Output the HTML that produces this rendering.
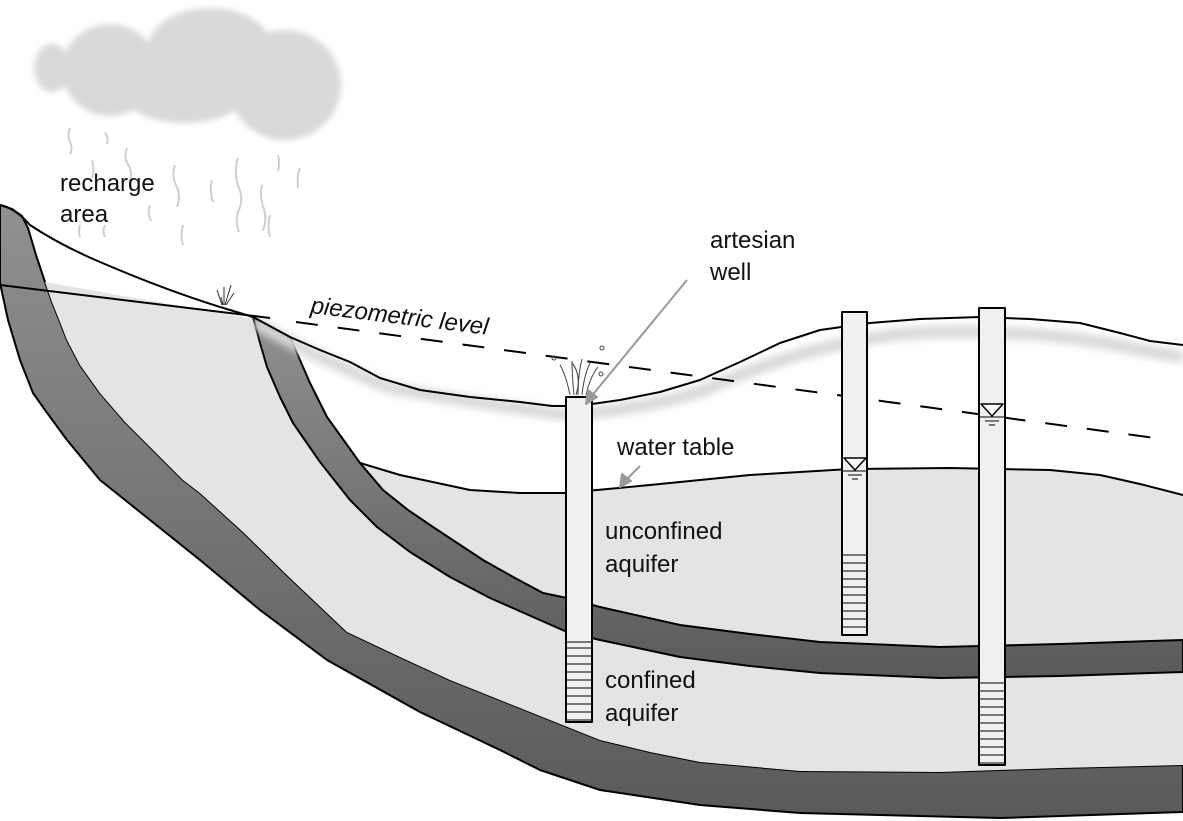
<!DOCTYPE html>
<html><head><meta charset="utf-8"><style>
html,body{margin:0;padding:0;background:#fff;}
svg{display:block;}
text{font-family:"Liberation Sans",sans-serif;font-size:24px;fill:#111;}
</style></head><body>
<svg width="1183" height="821" viewBox="0 0 1183 821" xmlns="http://www.w3.org/2000/svg" stroke-linejoin="round">
<defs>
<linearGradient id="dk" x1="0" y1="0" x2="0" y2="1">
<stop offset="0" stop-color="#909090"/><stop offset="1" stop-color="#5a5a5a"/>
</linearGradient>
<filter id="bl"><feGaussianBlur stdDeviation="4"/></filter>
<filter id="bl2"><feGaussianBlur stdDeviation="3"/></filter>
</defs>

<!-- cloud -->
<g fill="#d9d9d9" filter="url(#bl2)">
<ellipse cx="52" cy="68" rx="18" ry="24"/>
<ellipse cx="110" cy="70" rx="48" ry="46"/>
<ellipse cx="210" cy="48" rx="62" ry="40"/>
<ellipse cx="285" cy="85" rx="56" ry="55"/>
<ellipse cx="185" cy="95" rx="60" ry="28"/>
</g>

<!-- rain -->
<g stroke="#cfcfcf" stroke-width="2" fill="none">
<path d="M70 128 q-3 8 0 14 q3 6 0 12"/>
<path d="M105 132 q4 6 2 12"/>
<path d="M127 148 q-4 10 2 18 q4 8 0 16"/>
<path d="M92 160 q3 10 0 18"/>
<path d="M175 165 q-4 12 2 22 q4 10 0 20"/>
<path d="M212 180 q-3 10 1 22"/>
<path d="M238 158 q-5 15 1 30 q5 12 -1 24 q-3 10 1 20"/>
<path d="M262 185 q-3 12 2 24 q3 10 -1 22"/>
<path d="M278 155 q2 8 0 16"/>
<path d="M300 168 q-3 6 -2 20"/>
<path d="M150 205 q-3 8 1 16"/>
<path d="M183 225 q-3 10 0 20"/>
<path d="M270 215 q-3 10 0 22"/>
<path d="M80 225 q-2 6 0 12"/>
<path d="M105 225 q-3 6 0 12"/>
</g>

<!-- outer dark band -->
<path d="M0 205 L12 209 L22 216 L28 228 L36 255 L45 282 L52 302 L60 322 L67 340 L80 365 L100 393 L125 422 L150 447 L183 480 L200 493 L243 532 L290 578 L347 632 L400 657 L450 680 L520 708 L565 726 L600 740 L650 752 L700 762 L800 771 L940 772 L1060 768 L1183 765 L1183 812 L1000 818 L800 813 L700 805 L600 790 L540 770 L500 750 L420 712 L327 660 L260 610 L200 560 L150 520 L100 480 L67 440 L45 410 L33 393 L20 360 L8 320 L0 283 Z" fill="url(#dk)" stroke="#000" stroke-width="2"/>
<!-- confined aquifer light -->
<path d="M45 282 L248 318 L253 317 L260 343 L267 367 L280 397 L293 423 L320 462 L350 500 L377 527 L410 552 L450 577 L490 598 L533 617 L567 632 L600 640 L680 657 L820 673 L940 678 L1183 672 L1183 765 L1060 768 L940 772 L800 771 L700 762 L650 752 L600 740 L565 726 L520 708 L450 680 L400 657 L347 632 L290 578 L243 532 L200 493 L183 480 L150 447 L125 422 L100 393 L80 365 L67 340 L60 322 L52 302 Z" fill="#e4e4e4"/>
<!-- unconfined aquifer -->
<path d="M360 463 L400 475 L470 490 L520 493 L565 493 L650 485 L750 475 L850 469 L950 468 L1050 470 L1100 475 L1140 484 L1183 495 L1183 640 L940 647 L820 642 L680 625 L600 607 L567 598 L543 593 L483 560 L433 527 L383 490 Z" fill="#e4e4e4"/>
<!-- upper confining dark band -->
<path d="M253 317 L290 337 L300 360 L310 383 L327 417 L345 442 L360 463 L383 490 L408 510 L433 527 L483 560 L515 578 L543 593 L567 598 L600 607 L680 625 L750 634 L820 642 L940 647 L1060 644 L1183 640 L1183 672 L1060 676 L940 678 L820 673 L750 666 L680 657 L600 640 L567 632 L533 617 L490 598 L450 577 L410 552 L377 527 L350 500 L320 462 L293 423 L280 397 L267 367 L260 343 Z" fill="url(#dk)" stroke="#000" stroke-width="2"/>
<!-- water table line -->
<path d="M360 463 L400 475 L470 490 L520 493 L565 493 L650 485 L750 475 L850 469 L950 468 L1050 470 L1100 475 L1140 484 L1183 495" fill="none" stroke="#000" stroke-width="2"/>

<!-- land surface shadow -->
<path d="M255 322 Q300 350 390 388 Q470 402 560 414 Q620 414 700 392 Q800 346 900 334 Q1000 327 1100 342 Q1150 352 1183 357" fill="none" stroke="#d8d8d8" stroke-width="12" filter="url(#bl)"/>
<!-- land surface -->
<path d="M0 205 Q15 208 30 225 Q60 245 100 262 Q170 292 230 310 L253 317 L290 337 L320 350 L350 362 L380 378 L420 390 L470 397 L520 402 L552 406 L566 406 M592 404 L620 400 L660 392 L700 380 L740 362 L780 343 L820 330 L870 323 L920 319 L980 317 L1030 319 L1080 323 L1120 333 L1150 341 L1183 345" fill="none" stroke="#000" stroke-width="2"/>
<!-- piezometric base line -->
<line x1="0" y1="285" x2="270" y2="318" stroke="#000" stroke-width="2"/>
<!-- dashed piezometric line -->
<line x1="296" y1="322" x2="1170" y2="440" stroke="#000" stroke-width="2" stroke-dasharray="22,20"/>

<!-- grass -->
<g stroke="#333" stroke-width="1" fill="none">
<path d="M222 305 l-5 -15 M224 305 l0 -18 M225 305 l6 -20 M226 305 l8 -12 M223 305 l-2 -8"/>
</g>

<!-- wells -->
<g stroke="#000" stroke-width="2" fill="#f0f0f0">
<rect x="566" y="397" width="26" height="325"/>
<rect x="842" y="312" width="25" height="323"/>
<rect x="979" y="308" width="26" height="457"/>
</g>
<g stroke="#000" stroke-width="1">
<path d="M566 648h26M566 656h26M566 664h26M566 672h26M566 680h26M566 688h26M566 696h26M566 704h26M566 712h26M566 720h26M566 642h26"/>
<path d="M842 555h25M842 563h25M842 571h25M842 579h25M842 587h25M842 595h25M842 603h25M842 611h25M842 619h25M842 627h25"/>
<path d="M979 683h26M979 691h26M979 699h26M979 707h26M979 715h26M979 723h26M979 731h26M979 739h26M979 747h26M979 755h26M979 763h26"/>
</g>
<!-- water level symbols -->
<g stroke="#000" stroke-width="1.5" fill="#fff">
<path d="M844 458 L866 458 L855 470 Z"/>
<path d="M981 404 L1003 404 L992 416 Z"/>
</g>
<g stroke="#000" stroke-width="1">
<path d="M843 471h23M848 475h14M852 479h6"/>
<path d="M980 417h24M985 421h14M989 425h6"/>
</g>

<!-- fountain -->
<g stroke="#444" stroke-width="1" fill="none">
<path d="M570 395 q-4 -20 -10 -30 M574 395 q-2 -20 -2 -34 M578 395 q0 -20 4 -36 M582 395 q2 -20 8 -32 M586 395 q4 -18 12 -28 M576 395 q6 -20 -4 -32"/>
<circle cx="554" cy="358" r="2"/><circle cx="602" cy="348" r="2"/><circle cx="601" cy="374" r="2"/>
</g>

<!-- arrows -->
<g stroke="#999" stroke-width="2" fill="#999">
<line x1="687" y1="280" x2="590" y2="398"/>
<path d="M586 404 L588 390 L597 397 Z"/>
<line x1="640" y1="466" x2="624" y2="482"/>
<path d="M620 487 L622 474 L631 481 Z"/>
</g>

<!-- labels -->
<text x="60" y="191">recharge</text>
<text x="60" y="222">area</text>
<text x="310" y="313" transform="rotate(7 310 313)" font-style="italic">piezometric level</text>
<text x="710" y="248">artesian</text>
<text x="710" y="280">well</text>
<text x="617" y="455">water table</text>
<text x="605" y="539">unconfined</text>
<text x="605" y="572">aquifer</text>
<text x="605" y="688">confined</text>
<text x="605" y="721">aquifer</text>
</svg>
</body></html>
